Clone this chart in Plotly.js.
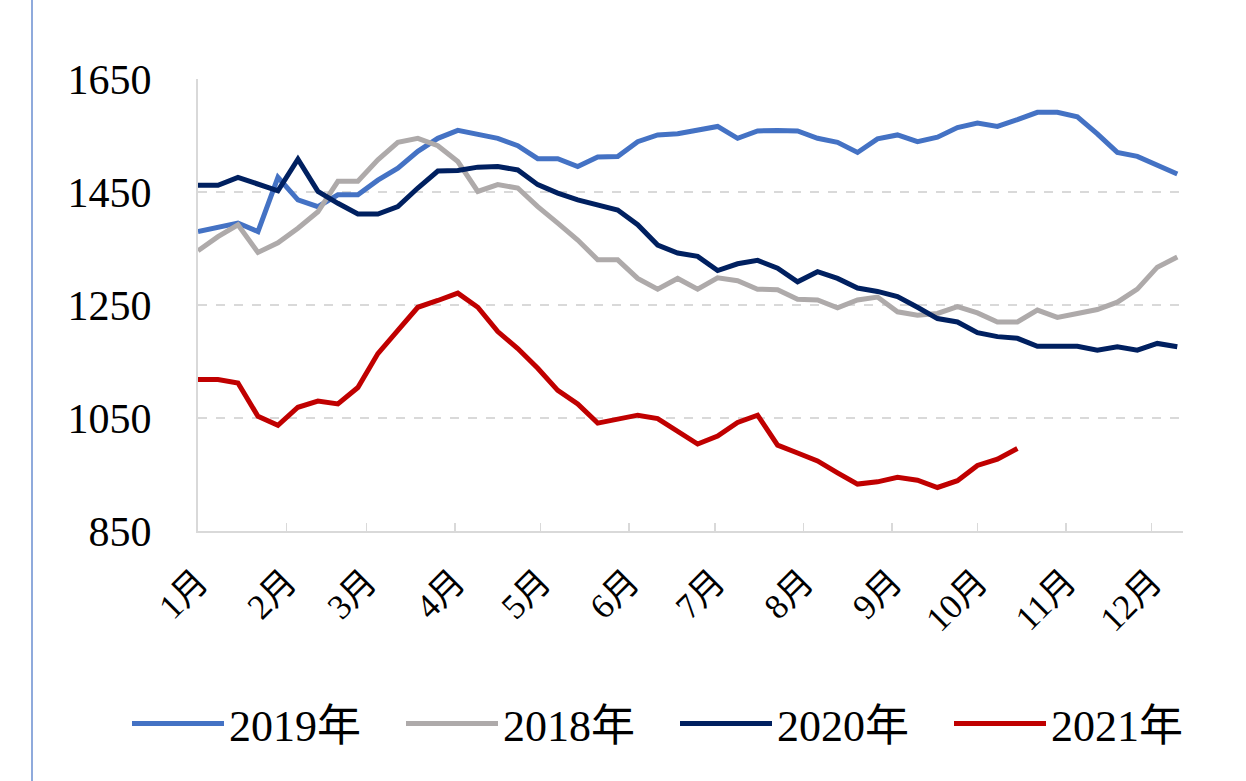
<!DOCTYPE html>
<html>
<head>
<meta charset="utf-8">
<script src="https://cdn.plot.ly/plotly-3.0.1.min.js"></script>
<style>html,body{margin:0;padding:0;background:#fff;}#chart{width:1246px;height:781px;}</style>
</head>
<body>
<div id="chart"></div>
<script>
// Weekly observation dates (plotted on a common calendar year)
const weeks = [
  '2021-01-01','2021-01-08','2021-01-15','2021-01-22','2021-01-29',
  '2021-02-05','2021-02-12','2021-02-19','2021-02-26',
  '2021-03-05','2021-03-12','2021-03-19','2021-03-26',
  '2021-04-02','2021-04-09','2021-04-16','2021-04-23','2021-04-30',
  '2021-05-07','2021-05-14','2021-05-21','2021-05-28',
  '2021-06-04','2021-06-11','2021-06-18','2021-06-25',
  '2021-07-02','2021-07-09','2021-07-16','2021-07-23','2021-07-30',
  '2021-08-06','2021-08-13','2021-08-20','2021-08-27',
  '2021-09-03','2021-09-10','2021-09-17','2021-09-24',
  '2021-10-01','2021-10-08','2021-10-15','2021-10-22','2021-10-29',
  '2021-11-05','2021-11-12','2021-11-19','2021-11-26',
  '2021-12-03','2021-12-10'
];

const monthStarts = ['2021-01-01','2021-02-01','2021-03-01','2021-04-01','2021-05-01','2021-06-01',
  '2021-07-01','2021-08-01','2021-09-01','2021-10-01','2021-11-01','2021-12-01'];
const monthLabels = ['1月','2月','3月','4月','5月','6月','7月','8月','9月','10月','11月','12月'];

const seriesNames = ['2019年','2018年','2020年','2021年'];

const y2019 = [1380,1388,1395,1380,1476,1436,1424,1445,1445,1471,1492,1522,1545,1559,1553,1545,1532,1509,1509,1495,
  1512,1513,1539,1551,1553,1559,1566,1545,1558,1559,1558,1545,1538,1520,1544,1551,1539,1547,1564,1572,
  1566,1578,1591,1591,1583,1553,1520,1513,1498,1482];
const y2018 = [1346,1371,1392,1343,1360,1386,1415,1469,1469,1507,1538,1545,1532,1504,1451,1463,1457,1424,1395,1365,
  1330,1330,1297,1278,1297,1278,1298,1293,1278,1277,1260,1259,1245,1259,1264,1238,1232,1235,1247,1236,
  1220,1220,1241,1228,1235,1242,1255,1278,1317,1335];
const y2020 = [1462,1462,1476,1464,1452,1508,1451,1430,1411,1411,1424,1457,1487,1488,1494,1495,1489,1463,1448,1436,
  1428,1418,1392,1356,1342,1336,1311,1323,1329,1315,1291,1309,1297,1280,1274,1265,1246,1226,1220,1201,
  1194,1191,1177,1177,1177,1170,1176,1170,1182,1176];
const y2021 = [1118,1118,1112,1053,1037,1069,1080,1075,1104,1164,1205,1246,1258,1271,1246,1203,1173,1138,1099,1075,
  1041,1047,1055,1049,1027,1004,1018,1042,1055,1002,988,974,953,933,937,945,940,927,939,966,
  977,996];

const colors = ['#4472C4','#AEAAAA','#002060','#C00000'];
const values = [y2019, y2018, y2020, y2021];

const FONT = '"Liberation Serif", "Times New Roman", "Noto Sans CJK SC", serif';

const traces = values.map((v, k) => ({
  type: 'scatter',
  mode: 'lines',
  name: seriesNames[k],
  x: weeks.slice(0, v.length),
  y: v,
  line: {color: colors[k], width: 5, shape: 'linear'},
  hoverinfo: 'x+y+name'
}));

const padL = 198, padR = 1183, padT = 79, padB = 531;
const W = 1246, H = 781;
const pw = padR - padL, ph = padB - padT;

const layout = {
  width: W, height: H,
  margin: {l: padL, r: W - padR, t: padT, b: H - padB, pad: 0, autoexpand: false},
  paper_bgcolor: '#ffffff',
  plot_bgcolor: '#ffffff',
  font: {family: FONT, color: '#000000', size: 36},
  showlegend: true,
  legend: {
    orientation: 'h',
    x: (127 - padL) / pw, xanchor: 'left',
    y: (padB - 724) / ph, yanchor: 'middle',
    font: {family: FONT, size: 44, color: '#000'},
    itemwidth: 92,
    entrywidth: 167,
    traceorder: 'normal',
    bgcolor: 'rgba(0,0,0,0)'
  },
  xaxis: {
    type: 'date',
    range: ['2021-01-01', '2021-12-12'],
    tickvals: monthStarts,
    ticktext: monthLabels,
    tickangle: -45,
    tickfont: {family: FONT, size: 35, color: '#000'},
    ticks: 'inside',
    ticklen: 8,
    tickwidth: 1.5,
    tickcolor: '#d9d9d9',
    ticklabelstandoff: 14,
    showline: true,
    linecolor: '#d9d9d9',
    linewidth: 2,
    showgrid: false,
    zeroline: false,
    automargin: false,
    fixedrange: true
  },
  yaxis: {
    range: [850, 1650],
    tickvals: [850, 1050, 1250, 1450, 1650],
    ticktext: ['850', '1050', '1250', '1450', '1650'],
    tickfont: {family: FONT, size: 42, color: '#000'},
    ticks: '',
    ticklabelstandoff: 36,
    showline: true,
    linecolor: '#d9d9d9',
    linewidth: 2,
    showgrid: true,
    gridcolor: '#d9d9d9',
    gridwidth: 2,
    griddash: 'dash',
    zeroline: false,
    automargin: false,
    fixedrange: true
  },
  shapes: [{
    type: 'line', xref: 'paper', yref: 'paper',
    x0: (32 - padL) / pw, x1: (32 - padL) / pw,
    y0: (padB - 0) / ph, y1: (padB - H) / ph,
    line: {color: '#8FAADC', width: 2}
  }]
};

Plotly.newPlot('chart', traces, layout, {displayModeBar: false, staticPlot: true});
</script>
</body>
</html>
